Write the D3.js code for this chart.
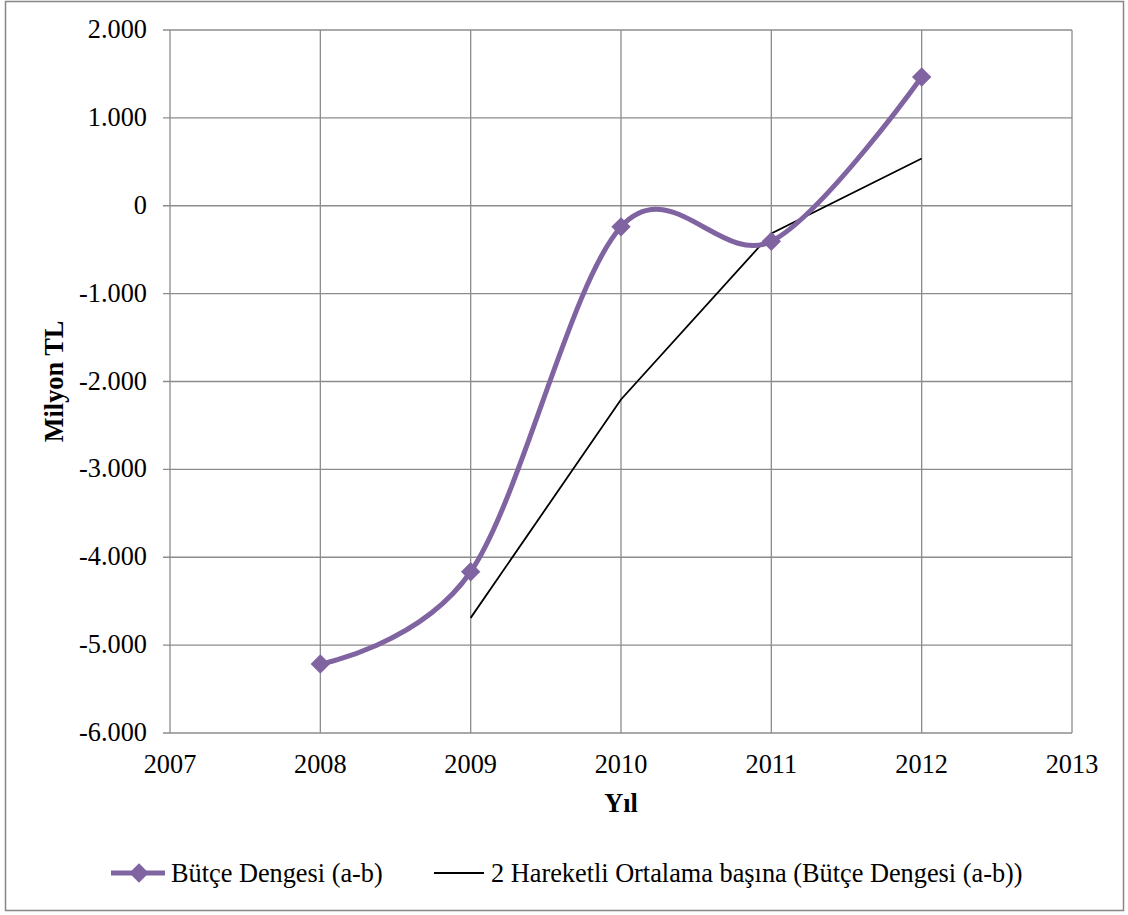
<!DOCTYPE html>
<html>
<head>
<meta charset="utf-8">
<script src="https://cdn.jsdelivr.net/npm/d3@7"></script>
<style>
  body { margin: 0; background: #fff; }
  text { font-family: "Liberation Serif", "Times New Roman", serif; fill: #000; }
</style>
</head>
<body>
<script>
// Chart data
const years = [2008, 2009, 2010, 2011, 2012];
const butceDengesi = [-5215, -4165, -240, -405, 1466];
const maYears = [2009, 2010, 2011, 2012];
const hareketliOrt = [-4690, -2205, -315, 538];
const yTicks = [2000, 1000, 0, -1000, -2000, -3000, -4000, -5000, -6000];
const xTicks = [2007, 2008, 2009, 2010, 2011, 2012, 2013];

const width = 1128, height = 915;
const margin = { left: 170, right: 56, top: 30, bottom: 182 };
const purple = "#8064a2";
const fs = "26.3px";

const svg = d3.select("body").append("svg")
    .attr("width", width)
    .attr("height", height);

// Outer chart border
svg.append("rect")
    .attr("x", 5.5).attr("y", 1.5)
    .attr("width", 1118).attr("height", 909)
    .attr("fill", "#fff")
    .attr("stroke", "#868686")
    .attr("stroke-width", 1.5);

const x = d3.scaleLinear().domain([2007, 2013]).range([margin.left, width - margin.right]);
const y = d3.scaleLinear().domain([-6000, 2000]).range([height - margin.bottom, margin.top]);

const fmt = v => d3.format(",")(v).replace(/,/g, ".").replace("−", "-");

// Grid lines
svg.append("g")
    .selectAll("line")
    .data(yTicks)
    .join("line")
    .attr("x1", x(2007) - 7).attr("x2", x(2013))
    .attr("y1", d => y(d)).attr("y2", d => y(d))
    .attr("stroke", "#8c8c8c").attr("stroke-width", 1.3);

svg.append("g")
    .selectAll("line")
    .data(xTicks)
    .join("line")
    .attr("x1", d => x(d)).attr("x2", d => x(d))
    .attr("y1", y(2000)).attr("y2", y(-6000))
    .attr("stroke", "#8c8c8c").attr("stroke-width", 1.3);

// Y tick labels
svg.append("g")
    .selectAll("text")
    .data(yTicks)
    .join("text")
    .attr("x", x(2007) - 23)
    .attr("y", d => y(d) + 8)
    .attr("text-anchor", "end")
    .style("font-size", fs)
    .text(d => fmt(d));

// X tick labels
svg.append("g")
    .selectAll("text")
    .data(xTicks)
    .join("text")
    .attr("x", d => x(d))
    .attr("y", y(-6000) + 40)
    .attr("text-anchor", "middle")
    .style("font-size", fs)
    .text(d => d);

// Axis titles
svg.append("text")
    .attr("transform", `translate(63,${(y(2000) + y(-6000)) / 2}) rotate(-90)`)
    .attr("text-anchor", "middle")
    .style("font-size", fs)
    .style("font-weight", "bold")
    .text("Milyon TL");

svg.append("text")
    .attr("x", (x(2007) + x(2013)) / 2)
    .attr("y", 812)
    .attr("text-anchor", "middle")
    .style("font-size", fs)
    .style("font-weight", "bold")
    .text("Yıl");

// Moving average line
const maLine = d3.line()
    .x((d, i) => x(maYears[i]))
    .y(d => y(d));

svg.append("path")
    .datum(hareketliOrt)
    .attr("d", maLine)
    .attr("fill", "none")
    .attr("stroke", "#000")
    .attr("stroke-width", 1.8);

// Smoothed budget balance line
const smoothLine = d3.line()
    .x((d, i) => x(years[i]))
    .y(d => y(d))
    .curve(d3.curveCardinal.tension(0));

svg.append("path")
    .datum(butceDengesi)
    .attr("d", smoothLine)
    .attr("fill", "none")
    .attr("stroke", purple)
    .attr("stroke-width", 5);

const diamond = d3.symbol().type(d3.symbolDiamond2).size(240);

svg.append("g")
    .selectAll("path")
    .data(butceDengesi)
    .join("path")
    .attr("transform", (d, i) => `translate(${x(years[i])},${y(d)})`)
    .attr("d", diamond)
    .attr("fill", purple);

// Legend
const ly = 873;
svg.append("line")
    .attr("x1", 111).attr("x2", 165)
    .attr("y1", ly).attr("y2", ly)
    .attr("stroke", purple).attr("stroke-width", 5);
svg.append("path")
    .attr("transform", `translate(139,${ly})`)
    .attr("d", diamond)
    .attr("fill", purple);
svg.append("text")
    .attr("x", 171).attr("y", ly + 9)
    .style("font-size", fs)
    .text("Bütçe Dengesi (a-b)");

svg.append("line")
    .attr("x1", 434).attr("x2", 484)
    .attr("y1", ly).attr("y2", ly)
    .attr("stroke", "#000").attr("stroke-width", 1.8);
svg.append("text")
    .attr("x", 491).attr("y", ly + 9)
    .style("font-size", fs)
    .text("2 Hareketli Ortalama başına (Bütçe Dengesi (a-b))");
</script>
</body>
</html>
